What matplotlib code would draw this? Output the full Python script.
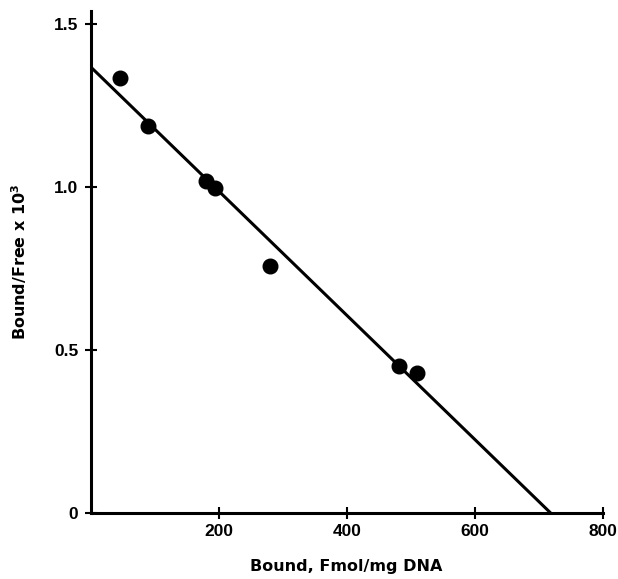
import matplotlib
matplotlib.use("Agg")
import numpy as np
import matplotlib.pyplot as plt

# data
bound = [46, 90, 180, 194, 280, 481, 510]
ratio = [1.334, 1.187, 1.018, 0.997, 0.758, 0.451, 0.429]
fit_x = [0, 718]
fit_y = [1.368, 0.0]

xticks = [200, 400, 600, 800]
xticklabels = ['200', '400', '600', '800']
yticks = [0, 0.5, 1.0, 1.5]
yticklabels = ['0', '0.5', '1.0', '1.5']

plt.rcParams['font.family'] = ['Liberation Sans', 'DejaVu Sans']
plt.rcParams['font.weight'] = 'bold'

fig = plt.figure(figsize=(6.18, 5.79), dpi=100)
ax = fig.add_axes([0.147, 0.114, 0.829, 0.867])

ax.plot(fit_x, fit_y, color='black', lw=2.2, solid_capstyle='butt')
ax.plot(bound, ratio, 'o', color='black', ms=10.5)

ax.set_xlim(0, 800)
ax.set_ylim(0, 1.54)
for s in ['top', 'right']:
    ax.spines[s].set_visible(False)
for s in ['left', 'bottom']:
    ax.spines[s].set_linewidth(2.2)

ax.set_xticks(xticks)
ax.set_xticklabels(xticklabels)
ax.set_yticks(yticks)
ax.set_yticklabels(yticklabels)
ax.tick_params(direction='inout', length=8, width=1.5, labelsize=12.5, pad=5)
ax.tick_params(axis='x', pad=4)
for lab in ax.get_xticklabels() + ax.get_yticklabels():
    lab.set_fontweight('bold')

fig.text(346 / 618, 1 - 567 / 579, 'Bound, Fmol/mg DNA', fontsize=11.5, fontweight='bold',
         family='DejaVu Sans', ha='center', va='center')
fig.text(19 / 618, 1 - 262 / 579, 'Bound/Free x 10$^3$', fontsize=11.5, fontweight='bold',
         family='DejaVu Sans', ha='center', va='center', rotation=90)

plt.savefig('out.png')
